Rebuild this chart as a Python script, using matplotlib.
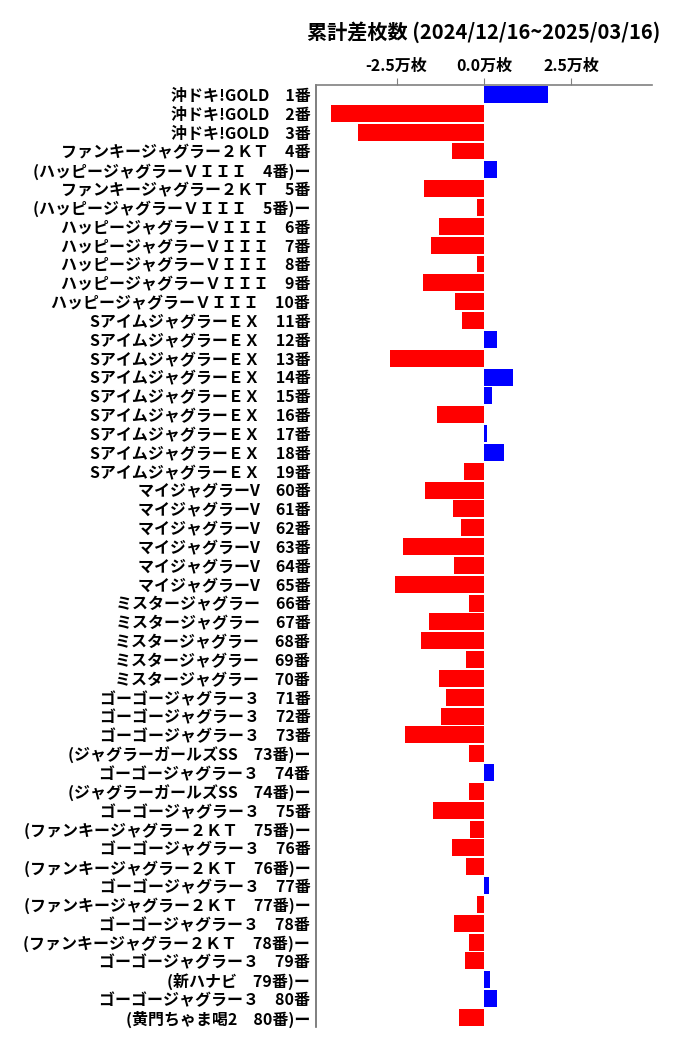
import matplotlib
matplotlib.use("Agg")
import matplotlib.pyplot as plt
from matplotlib.ticker import FuncFormatter

plt.rcParams['font.family'] = ['Noto Sans CJK JP', 'DejaVu Sans']

# 台ごとのラベル（上から順）
labels = [
    "沖ドキ!GOLD　1番", "沖ドキ!GOLD　2番", "沖ドキ!GOLD　3番",
    "ファンキージャグラー２ＫＴ　4番", "(ハッピージャグラーＶＩＩＩ　4番)ー",
    "ファンキージャグラー２ＫＴ　5番", "(ハッピージャグラーＶＩＩＩ　5番)ー",
    "ハッピージャグラーＶＩＩＩ　6番", "ハッピージャグラーＶＩＩＩ　7番",
    "ハッピージャグラーＶＩＩＩ　8番", "ハッピージャグラーＶＩＩＩ　9番",
    "ハッピージャグラーＶＩＩＩ　10番",
    "SアイムジャグラーＥＸ　11番", "SアイムジャグラーＥＸ　12番",
    "SアイムジャグラーＥＸ　13番", "SアイムジャグラーＥＸ　14番",
    "SアイムジャグラーＥＸ　15番", "SアイムジャグラーＥＸ　16番",
    "SアイムジャグラーＥＸ　17番", "SアイムジャグラーＥＸ　18番",
    "SアイムジャグラーＥＸ　19番",
    "マイジャグラーV　60番", "マイジャグラーV　61番", "マイジャグラーV　62番",
    "マイジャグラーV　63番", "マイジャグラーV　64番", "マイジャグラーV　65番",
    "ミスタージャグラー　66番", "ミスタージャグラー　67番", "ミスタージャグラー　68番",
    "ミスタージャグラー　69番", "ミスタージャグラー　70番",
    "ゴーゴージャグラー３　71番", "ゴーゴージャグラー３　72番",
    "ゴーゴージャグラー３　73番", "(ジャグラーガールズSS　73番)ー",
    "ゴーゴージャグラー３　74番", "(ジャグラーガールズSS　74番)ー",
    "ゴーゴージャグラー３　75番", "(ファンキージャグラー２ＫＴ　75番)ー",
    "ゴーゴージャグラー３　76番", "(ファンキージャグラー２ＫＴ　76番)ー",
    "ゴーゴージャグラー３　77番", "(ファンキージャグラー２ＫＴ　77番)ー",
    "ゴーゴージャグラー３　78番", "(ファンキージャグラー２ＫＴ　78番)ー",
    "ゴーゴージャグラー３　79番", "(新ハナビ　79番)ー",
    "ゴーゴージャグラー３　80番", "(黄門ちゃま喝2　80番)ー",
]

# 累計差枚数（枚）
diffs = [
    18300, -43700, -36000,
    -9100, 3700,
    -17100, -2000,
    -12900, -15100, -2000, -17400, -8300,
    -6300, 3700, -26900, 8300, 2300, -13400, 900, 5700, -5700,
    -16900, -8900, -6600, -23100, -8600, -25400,
    -4300, -15700, -18000, -5100, -12900,
    -10900, -12300, -22600, -4300,
    2900, -4300,
    -14600, -4000,
    -9100, -5100,
    1400, -2000,
    -8600, -4300,
    -5400, 1700,
    3700, -7100,
]

title = "累計差枚数 (2024/12/16~2025/03/16)"

colors = ['blue' if v > 0 else 'red' for v in diffs]
y = list(range(len(labels)))

fig = plt.figure(figsize=(6.75, 10.5), dpi=100)
ax = fig.add_axes([0.468, 0.022, 0.498, 0.897])

ax.barh(y, diffs, color=colors, height=0.9)

lim = max(abs(v) for v in diffs) * 1.1
ax.set_xlim(-lim, lim)
ax.set_ylim(len(labels) - 0.5, -0.5)

ax.set_yticks(y)
ax.set_yticklabels(labels, fontsize=11.5, fontweight='bold')
ax.tick_params(axis='y', length=0, pad=4)

ax.xaxis.tick_top()
ax.set_xticks([-25000, 0, 25000])
ax.xaxis.set_major_formatter(FuncFormatter(lambda v, p: f"{v / 10000:.1f}万枚"))
ax.tick_params(axis='x', length=5, color='gray', labelsize=11.5, pad=3)
for t in ax.get_xticklabels():
    t.set_fontweight('bold')

ax.spines['right'].set_visible(False)
ax.spines['bottom'].set_visible(False)
ax.spines['top'].set_color('gray')
ax.spines['left'].set_color('dimgray')
ax.spines['top'].set_linewidth(1.2)
ax.spines['left'].set_linewidth(1.2)

ax.set_title(title, fontsize=14.5, fontweight='bold', pad=33)

plt.savefig("out.png", dpi=100)
